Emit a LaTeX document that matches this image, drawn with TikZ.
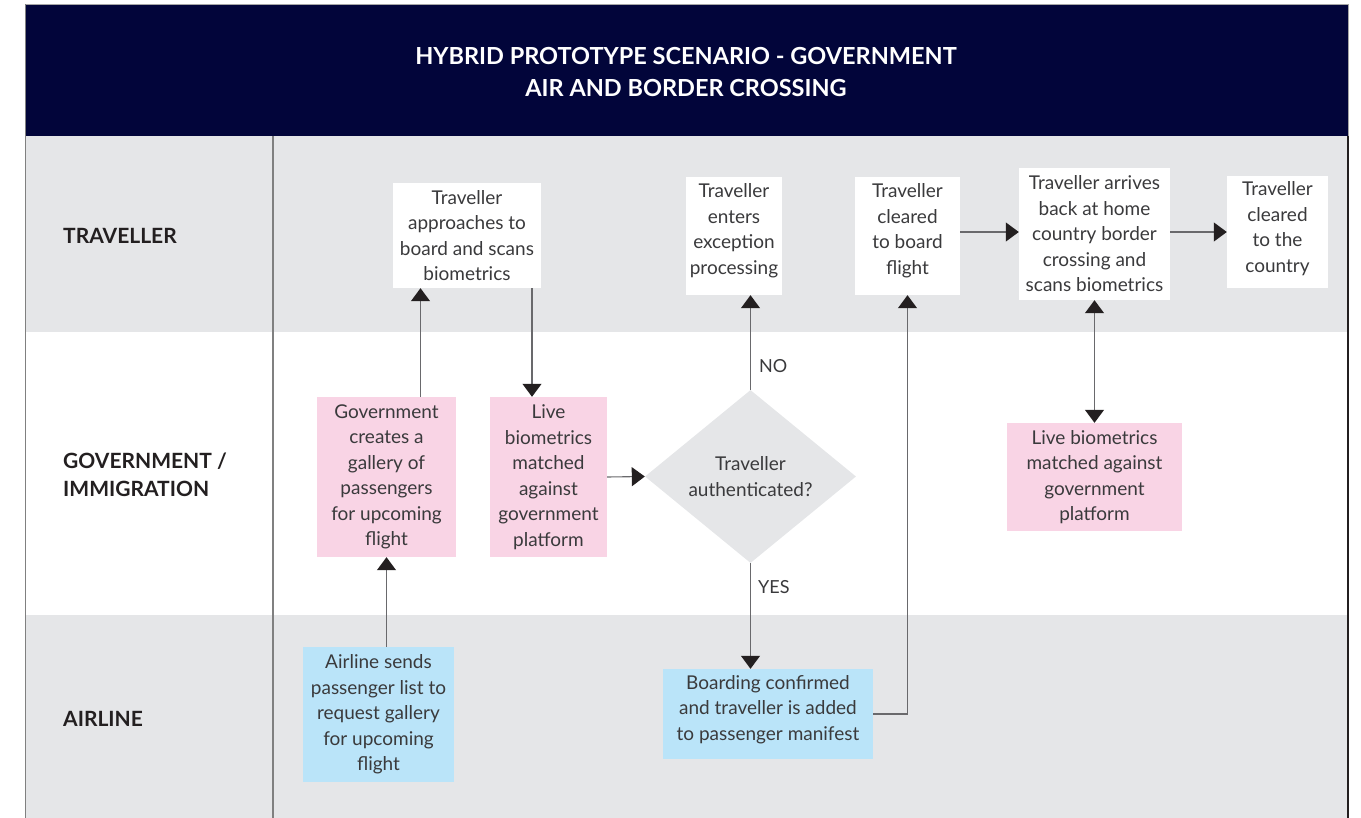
\documentclass[tikz,border=0pt]{standalone}
\usepackage{fontspec}
\setmainfont{Lato}
\usetikzlibrary{arrows.meta, shapes.geometric}
\definecolor{navy}{RGB}{2,5,58}
\definecolor{lanegray}{RGB}{229,230,232}
\definecolor{govpink}{RGB}{249,212,229}
\definecolor{airblue}{RGB}{186,228,249}
\definecolor{txtgray}{RGB}{58,58,60}
\definecolor{linegray}{RGB}{105,105,108}
\definecolor{tipblack}{RGB}{35,31,32}

\begin{document}
\begin{tikzpicture}[x=1pt, y=-1pt,
  box/.style={align=center, inner sep=0pt, text=txtgray, font=\fontsize{19}{25.5}\selectfont},
  travbox/.style={box, fill=white},
  govbox/.style={box, fill=govpink},
  airbox/.style={box, fill=airblue},
  lift/.style={text depth=#1},
  lanelabel/.style={anchor=west, align=left, inner sep=0pt, text=tipblack, font=\fontsize{21}{28}\selectfont\bfseries},
  tag/.style={anchor=west, inner sep=0pt, text=txtgray, font=\fontsize{18}{25.5}\selectfont},
  flow/.style={draw=linegray, line width=1.1pt, -{Triangle[length=13pt,width=19pt,color=tipblack]}},
  twoway/.style={flow, {Triangle[length=13pt,width=19pt,color=tipblack]}-{Triangle[length=13pt,width=19pt,color=tipblack]}}]
\useasboundingbox (0,0) rectangle (1361,818);

% lanes and frame
\fill[navy] (25,4) rectangle (1348,136);
\fill[lanegray] (25,136) rectangle (1347,332);
\fill[lanegray] (25,615) rectangle (1347,818);
\draw[gray!70, line width=0.8pt] (25,4) -- (1348,4) -- (1348,136);
\draw[gray, line width=1pt] (25,4) -- (25,818);
\draw[gray, line width=1.2pt] (273,136) -- (273,818);
\draw[tipblack, line width=2pt] (1348,136) -- (1348,818);

\node[align=center, text=white, font=\fontsize{23.5}{32}\selectfont\bfseries] (title) at (686,72)
  {HYBRID PROTOTYPE SCENARIO - GOVERNMENT\\AIR AND BORDER CROSSING};

\node[lanelabel] (travlane) at (63,236) {TRAVELLER};
\node[lanelabel] (govlane) at (63,475) {GOVERNMENT /\\IMMIGRATION};
\node[lanelabel] (airlane) at (63,719) {AIRLINE};

% traveller lane
\node[travbox, minimum width=148pt, minimum height=105pt] (approach) at (467,235.5)
  {Traveller\\approaches to\\board and scans\\biometrics};
\node[travbox, lift=13.5pt, minimum width=96pt, minimum height=118pt] (exception) at (734,236)
  {Traveller\\enters\\exception\\processing};
\node[travbox, lift=13.5pt, minimum width=105pt, minimum height=118pt] (board) at (907.5,236)
  {Traveller\\cleared\\to board\\flight};
\node[travbox, minimum width=151pt, minimum height=132pt] (home) at (1094.5,234)
  {Traveller arrives\\back at home\\country border\\crossing and\\scans biometrics};
\node[travbox, lift=10pt, minimum width=101pt, minimum height=112pt] (country) at (1277.5,232)
  {Traveller\\cleared\\to the\\country};

% government lane
\node[govbox, minimum width=139pt, minimum height=160pt] (gallery) at (386.5,477)
  {Government\\creates a\\gallery of\\passengers\\for upcoming\\flight};
\node[govbox, minimum width=117pt, minimum height=160pt] (live) at (548.5,477)
  {Live\\biometrics\\matched\\against\\government\\platform};
\node[diamond, fill=lanegray, inner sep=0pt, minimum width=211pt, minimum height=173pt,
  align=center, text=txtgray, font=\fontsize{19}{25.5}\selectfont] (auth) at (750.5,476.5)
  {Traveller\\authenticated?};
\node[govbox, minimum width=175pt, minimum height=108pt] (homematch) at (1094.5,477)
  {Live biometrics\\matched against\\government\\platform};

% airline lane
\node[airbox, minimum width=151pt, minimum height=135pt] (airline) at (378.5,714.5)
  {Airline sends\\passenger list to\\request gallery\\for upcoming\\flight};
\node[airbox, lift=12pt, minimum width=210pt, minimum height=90pt] (boarding) at (768,714)
  {Boarding confirmed\\and traveller is added\\to passenger manifest};

\node[tag] (no) at (759,366) {NO};
\node[tag] (yes) at (758,587) {YES};

% connectors
\draw[flow] (airline.north -| gallery.south) -- (gallery.south);
\draw[flow] ([xshift=34pt]gallery.north) -- ([xshift=34pt]gallery.north |- approach.south);
\draw[flow] ([xshift=-16.5pt]live.north |- approach.south) -- ([xshift=-16.5pt]live.north);
\draw[flow] (live.east) -- (auth.west);
\draw[flow] (auth.north) -- (auth.north |- exception.south);
\draw[flow] (auth.south) -- (auth.south |- boarding.north);
\draw[flow] (boarding.east) -| (board.south);
\draw[flow] ([yshift=4pt]board.east) -- ([yshift=4pt]board.east -| home.west);
\draw[flow] (country.west -| home.east) -- (country.west);
\draw[twoway] (home.south) -- (home.south |- homematch.north);
\end{tikzpicture}
\end{document}
